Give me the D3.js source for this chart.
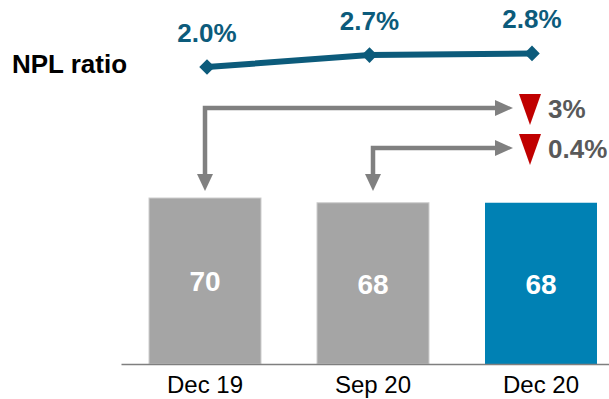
<!DOCTYPE html>
<html>
<head>
<meta charset="utf-8">
<script src="https://cdn.jsdelivr.net/npm/d3@7"></script>
<style>
  body { margin: 0; background: #fff; }
  text { font-family: "Liberation Sans", Arial, sans-serif; }
</style>
</head>
<body>
<div id="chart"></div>
<script>
var w = 609;
var h = 399;

// data
var categories = ["Dec 19", "Sep 20", "Dec 20"];
var loans = [70, 68, 68];
var nplRatio = [2.0, 2.7, 2.8];
var nplLabels = ["2.0%", "2.7%", "2.8%"];
var changeFrom = ["Dec 19", "Sep 20"];
var changeLabels = ["3%", "0.4%"];

var grey = "#a5a5a5", blue = "#0081b4", navy = "#0c5b7b", arrowGrey = "#808080";

var svg = d3.select("#chart")
    .append("svg")
    .attr("width", w)
    .attr("height", h);

// bars
var x = d3.scaleBand()
    .domain(categories)
    .range([121, 625])
    .paddingInner(1 / 3)
    .paddingOuter(1 / 6);

var y = d3.scaleLinear()
    .domain([0, 70])
    .range([364, 198]);

var bars = svg.append("g");
bars.selectAll("rect")
    .data(loans)
    .enter().append("rect")
    .attr("x", function(d, i) { return x(categories[i]); })
    .attr("y", function(d) { return y(d); })
    .attr("width", x.bandwidth())
    .attr("height", function(d) { return y(0) - y(d); })
    .attr("fill", function(d, i) { return i == 2 ? blue : grey; })
    .attr("stroke", function(d, i) { return i == 2 ? "none" : "#cdcdcd"; })
    .attr("stroke-width", 1);

bars.selectAll("text")
    .data(loans)
    .enter().append("text")
    .attr("x", function(d, i) { return x(categories[i]) + x.bandwidth() / 2; })
    .attr("y", function(d) { return (y(d) + y(0)) / 2; })
    .attr("dy", "0.37em")
    .attr("text-anchor", "middle")
    .attr("fill", "#fff")
    .attr("font-weight", "bold")
    .attr("font-size", "28px")
    .text(function(d) { return d; });

// x axis
var xAxis = svg.append("g")
    .attr("transform", "translate(0," + y(0) + ")")
    .call(d3.axisBottom(x).tickSize(0).tickPadding(12));
xAxis.select(".domain").attr("stroke", "#7f7f7f").attr("stroke-width", 1.5);
xAxis.selectAll("text")
    .attr("font-size", "24px")
    .attr("fill", "#000")
    .attr("font-family", "Liberation Sans, Arial, sans-serif");

// NPL ratio line
var xl = d3.scalePoint()
    .domain(categories)
    .range([207, 532]);

var yl = d3.scaleLinear()
    .domain([0, 3])
    .range([101, 50]);

svg.append("text")
    .attr("x", 12)
    .attr("y", 73)
    .attr("font-size", "26px")
    .attr("font-weight", "bold")
    .attr("fill", "#000")
    .text("NPL ratio");

var linePts = nplRatio.map(function(v, i) { return { x: xl(categories[i]), y: yl(v) }; });

svg.append("path")
    .datum(linePts)
    .attr("fill", "none")
    .attr("stroke", navy)
    .attr("stroke-width", 6)
    .attr("d", d3.line().x(function(d) { return d.x; }).y(function(d) { return d.y; }));

svg.selectAll(".diamond")
    .data(linePts)
    .enter().append("rect")
    .attr("class", "diamond")
    .attr("x", -5.5).attr("y", -5.5)
    .attr("width", 11).attr("height", 11)
    .attr("fill", navy)
    .attr("transform", function(d) { return "translate(" + d.x + "," + d.y + ") rotate(45)"; });

svg.selectAll(".npl-label")
    .data(linePts)
    .enter().append("text")
    .attr("class", "npl-label")
    .attr("x", function(d) { return d.x; })
    .attr("y", function(d) { return d.y - 25; })
    .attr("text-anchor", "middle")
    .attr("font-size", "26px")
    .attr("font-weight", "bold")
    .attr("fill", navy)
    .text(function(d, i) { return nplLabels[i]; });

// change arrows
var arrowY = [108, 148];
var tipX = 513, downTip = 191;
var ann = svg.append("g");

changeFrom.forEach(function(c, i) {
    var cx = x(c) + x.bandwidth() / 2;
    var ay = arrowY[i];
    ann.append("path")
        .attr("d", "M" + (tipX - 16) + "," + ay + "H" + cx + "V" + (downTip - 15))
        .attr("fill", "none")
        .attr("stroke", arrowGrey)
        .attr("stroke-width", 4.5);
    // right head
    ann.append("path")
        .attr("d", "M" + tipX + "," + ay + "L" + (tipX - 18) + "," + (ay - 8) + "L" + (tipX - 18) + "," + (ay + 8) + "Z")
        .attr("fill", arrowGrey);
    // down head
    ann.append("path")
        .attr("d", "M" + cx + "," + downTip + "L" + (cx - 8) + "," + (downTip - 17) + "L" + (cx + 8) + "," + (downTip - 17) + "Z")
        .attr("fill", arrowGrey);
    // red down triangle
    var ty = ay - 14;
    ann.append("path")
        .attr("d", "M519," + ty + "H541L530," + (ty + 31) + "Z")
        .attr("fill", "#c00000");
    ann.append("text")
        .attr("x", 548)
        .attr("y", ay + 10)
        .attr("font-size", "26px")
        .attr("font-weight", "bold")
        .attr("fill", "#595959")
        .text(changeLabels[i]);
});
</script>
</body>
</html>
